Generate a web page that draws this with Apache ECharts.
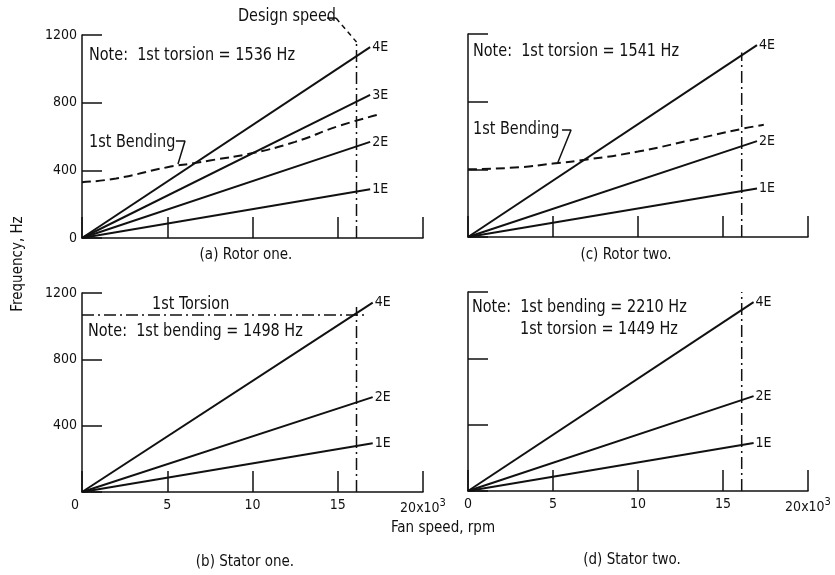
<!DOCTYPE html>
<html>
<head>
<meta charset="utf-8">
<script src="https://cdn.jsdelivr.net/npm/echarts@6/dist/echarts.min.js"></script>
<style>
html,body{margin:0;padding:0;background:#fff;}
#chart{width:835px;height:575px;}
</style>
</head>
<body>
<div id="chart"></div>
<script>
// ---------- data ----------
const speedTicks = [0, 5, 10, 15, 20];          // x 10^3 rpm
const freqTicks = [0, 400, 800, 1200];           // Hz
const designSpeed = 16.1;                        // x 10^3 rpm

// engine-order lines (start at origin, end near 17 x10^3 rpm)
const rotorOneSpeed = [0, 16.9];
const rotorOne1E = [0, 288];
const rotorOne2E = [0, 568];
const rotorOne3E = [0, 846];
const rotorOne4E = [0, 1128];

const rotorTwoSpeed = [0, 17.0];
const rotorTwo1E = [0, 287];
const rotorTwo2E = [0, 567];
const rotorTwo4E = [0, 1134];

const statorOneSpeed = [0, 17.05];
const statorOne1E = [0, 294];
const statorOne2E = [0, 572];
const statorOne4E = [0, 1142];

const statorTwoSpeed = [0, 16.8];
const statorTwo1E = [0, 289];
const statorTwo2E = [0, 572];
const statorTwo4E = [0, 1139];

// 1st bending curves
const rotorOneBendSpeed = [0, 2, 5, 6.6, 7.5, 10, 12.5, 15, 17.3];
const rotorOneBend      = [330, 352, 418, 443, 458, 502, 568, 660, 727];
const rotorTwoBendSpeed = [0, 3, 5, 7, 10, 13, 16.1, 17.4];
const rotorTwoBend      = [400, 412, 434, 458, 505, 570, 639, 663];

// 1st torsion, stator one
const statorOneTorsionSpeed = [0, 16.65];
const statorOneTorsion = [1067, 1067];

// top of design-speed line in each panel
const designTop = [1158, 1090, 1116, 1200];

// leader lines (label pointers)
const rotorOneBendLeaderX = [5.51, 6.04, 5.63];
const rotorOneBendLeaderY = [573, 573, 437];
const rotorTwoBendLeaderX = [5.53, 6.06, 5.29];
const rotorTwoBendLeaderY = [633, 633, 442];
const designLeaderSolidX = [14.37, 14.9];
const designLeaderSolidY = [1300, 1300];
const designLeaderDashX = [14.9, 16.1];
const designLeaderDashY = [1300, 1158];

// ---------- font choice ----------
function hasFont(name) {
  const c = document.createElement('canvas').getContext('2d');
  const t = 'Note: 1st torsion = 1536 Hz';
  c.font = '40px monospace';
  const a = c.measureText(t).width;
  c.font = "40px '" + name + "', monospace";
  const b = c.measureText(t).width;
  return Math.abs(a - b) > 0.5;
}
const candidates = ['DejaVu Sans Condensed', 'Liberation Sans Narrow', 'DejaVu Sans'];
let FAM = 'sans-serif';
for (const f of candidates) { if (hasFont(f)) { FAM = f; break; } }
const FONT = "'" + FAM + "', sans-serif";
function measure(text, size) {
  const c = document.createElement('canvas').getContext('2d');
  c.font = size + "px " + FONT;
  return c.measureText(text).width;
}
const NOTE_SIZE = 17;
const NOTE_SX = Math.min(1, 206 / measure('Note:  1st torsion = 1536 Hz', NOTE_SIZE));
const CAP_SIZE = 15;
const CAP_SX = Math.min(1, 94 / measure('(a) Rotor one.', CAP_SIZE));
const TICK_SIZE = 14;

// ---------- helpers ----------
const INK = '#111';
const zip = (xs, ys) => xs.map((x, i) => [x, ys[i]]);

const gridBase = {containLabel: false, outerBoundsMode: 'none'};
const grids = [
  Object.assign({left: 82,  top: 35,  width: 341, height: 203}, gridBase),
  Object.assign({left: 468, top: 34,  width: 340, height: 203}, gridBase),
  Object.assign({left: 82,  top: 293, width: 341, height: 199}, gridBase),
  Object.assign({left: 468, top: 292, width: 340, height: 199}, gridBase)
];

function xAxis(i, showLabels, zeroShift) {
  return {
    type: 'value', gridIndex: i, min: speedTicks[0], max: speedTicks[speedTicks.length - 1], interval: 5,
    axisLine: {show: true, onZero: false, lineStyle: {color: INK, width: 1.5}},
    axisTick: {show: true, inside: true, length: 21, lineStyle: {color: INK, width: 1.5}},
    splitLine: {show: false},
    axisLabel: {
      show: showLabels, color: INK, fontFamily: FONT, fontSize: TICK_SIZE, margin: 6,
      hideOverlap: false,
      formatter: v => v === 20 ? '{a|20x10}{s|3}' : (v === 0 && zeroShift ? '{z|0}' : String(v)),
      rich: {
        a: {fontFamily: FONT, fontSize: TICK_SIZE, color: INK},
        s: {fontFamily: FONT, fontSize: TICK_SIZE - 3, color: INK, padding: [0, 0, 9, 0]},
        z: {fontFamily: FONT, fontSize: TICK_SIZE, color: INK, padding: [0, 14, 0, 0]}
      }
    }
  };
}
function yAxis(i, showLabels, showZero) {
  return {
    type: 'value', gridIndex: i, min: freqTicks[0], max: freqTicks[freqTicks.length - 1], interval: 400,
    axisLine: {show: true, onZero: false, lineStyle: {color: INK, width: 1.5}},
    axisTick: {show: true, inside: true, length: 20, lineStyle: {color: INK, width: 1.5}},
    splitLine: {show: false},
    axisLabel: {
      show: showLabels, color: INK, fontFamily: FONT, fontSize: TICK_SIZE, margin: 5,
      formatter: v => (v === 0 && !showZero) ? '' : String(v)
    }
  };
}

function eLine(i, name, xs, ys) {
  return {
    type: 'line', name: name, xAxisIndex: i, yAxisIndex: i, data: zip(xs, ys),
    symbol: 'none', silent: true, clip: false,
    lineStyle: {color: INK, width: 2},
    endLabel: {show: true, formatter: name, color: INK, fontFamily: FONT, fontSize: TICK_SIZE, distance: 2}
  };
}
function plain(i, xs, ys, type, width, smooth) {
  return {
    type: 'line', xAxisIndex: i, yAxisIndex: i, data: zip(xs, ys),
    symbol: 'none', silent: true, clip: false, smooth: !!smooth,
    lineStyle: {color: INK, width: width || 1.6, type: type || 'solid'}
  };
}
const DASH = [9, 5];
const DASHDOT = [12, 4, 2, 4];

const series = [
  // (a) Rotor one
  eLine(0, '4E', rotorOneSpeed, rotorOne4E),
  eLine(0, '3E', rotorOneSpeed, rotorOne3E),
  eLine(0, '2E', rotorOneSpeed, rotorOne2E),
  eLine(0, '1E', rotorOneSpeed, rotorOne1E),
  plain(0, rotorOneBendSpeed, rotorOneBend, DASH, 2, true),
  plain(0, [designSpeed, designSpeed], [0, designTop[0]], DASHDOT, 1.5),
  plain(0, rotorOneBendLeaderX, rotorOneBendLeaderY, 'solid', 1.5),
  plain(0, designLeaderSolidX, designLeaderSolidY, 'solid', 1.5),
  plain(0, designLeaderDashX, designLeaderDashY, [5, 4], 1.5),
  // (c) Rotor two
  eLine(1, '4E', rotorTwoSpeed, rotorTwo4E),
  eLine(1, '2E', rotorTwoSpeed, rotorTwo2E),
  eLine(1, '1E', rotorTwoSpeed, rotorTwo1E),
  plain(1, rotorTwoBendSpeed, rotorTwoBend, DASH, 2, true),
  plain(1, [designSpeed, designSpeed], [0, designTop[1]], DASHDOT, 1.5),
  plain(1, rotorTwoBendLeaderX, rotorTwoBendLeaderY, 'solid', 1.5),
  // (b) Stator one
  eLine(2, '4E', statorOneSpeed, statorOne4E),
  eLine(2, '2E', statorOneSpeed, statorOne2E),
  eLine(2, '1E', statorOneSpeed, statorOne1E),
  plain(2, statorOneTorsionSpeed, statorOneTorsion, DASHDOT, 1.5),
  plain(2, [designSpeed, designSpeed], [0, designTop[2]], DASHDOT, 1.5),
  // (d) Stator two
  eLine(3, '4E', statorTwoSpeed, statorTwo4E),
  eLine(3, '2E', statorTwoSpeed, statorTwo2E),
  eLine(3, '1E', statorTwoSpeed, statorTwo1E),
  plain(3, [designSpeed, designSpeed], [0, designTop[3]], DASHDOT, 1.5)
];

// annotation text, anchored by its left edge and vertical middle
function note(x, y, text) {
  return {type: 'text', x: x, y: y, scaleX: NOTE_SX, silent: true,
    style: {text: text, fill: INK, font: NOTE_SIZE + 'px ' + FONT, align: 'left', verticalAlign: 'middle'}};
}
function centred(x, y, text, rot) {
  return {type: 'text', x: x, y: y, rotation: rot || 0, scaleX: CAP_SX, silent: true,
    style: {text: text, fill: INK, font: CAP_SIZE + 'px ' + FONT, align: 'center', verticalAlign: 'middle'}};
}

const graphic = [
  note(89, 56, 'Note:  1st torsion = 1536 Hz'),
  note(89, 143, '1st Bending'),
  note(238, 17, 'Design speed'),
  note(473, 52, 'Note:  1st torsion = 1541 Hz'),
  note(473, 130, '1st Bending'),
  note(152, 305, '1st Torsion'),
  note(88, 332, 'Note:  1st bending = 1498 Hz'),
  note(472, 308, 'Note:  1st bending = 2210 Hz'),
  note(520, 330, '1st torsion = 1449 Hz'),
  centred(246, 255, '(a) Rotor one.'),
  centred(626, 255, '(c) Rotor two.'),
  centred(245, 562, '(b) Stator one.'),
  centred(632, 560, '(d) Stator two.'),
  centred(443, 528, 'Fan speed, rpm'),
  centred(18, 264, 'Frequency, Hz', Math.PI / 2)
];

const chart = echarts.init(document.getElementById('chart'), null, {renderer: 'canvas'});
chart.setOption({
  animation: false,
  backgroundColor: '#fff',
  grid: grids,
  xAxis: [xAxis(0, false), xAxis(1, false), xAxis(2, true, true), xAxis(3, true, false)],
  yAxis: [yAxis(0, true, true), yAxis(1, false, false), yAxis(2, true, false), yAxis(3, false, false)],
  series: series,
  graphic: graphic
});
</script>
</body>
</html>
